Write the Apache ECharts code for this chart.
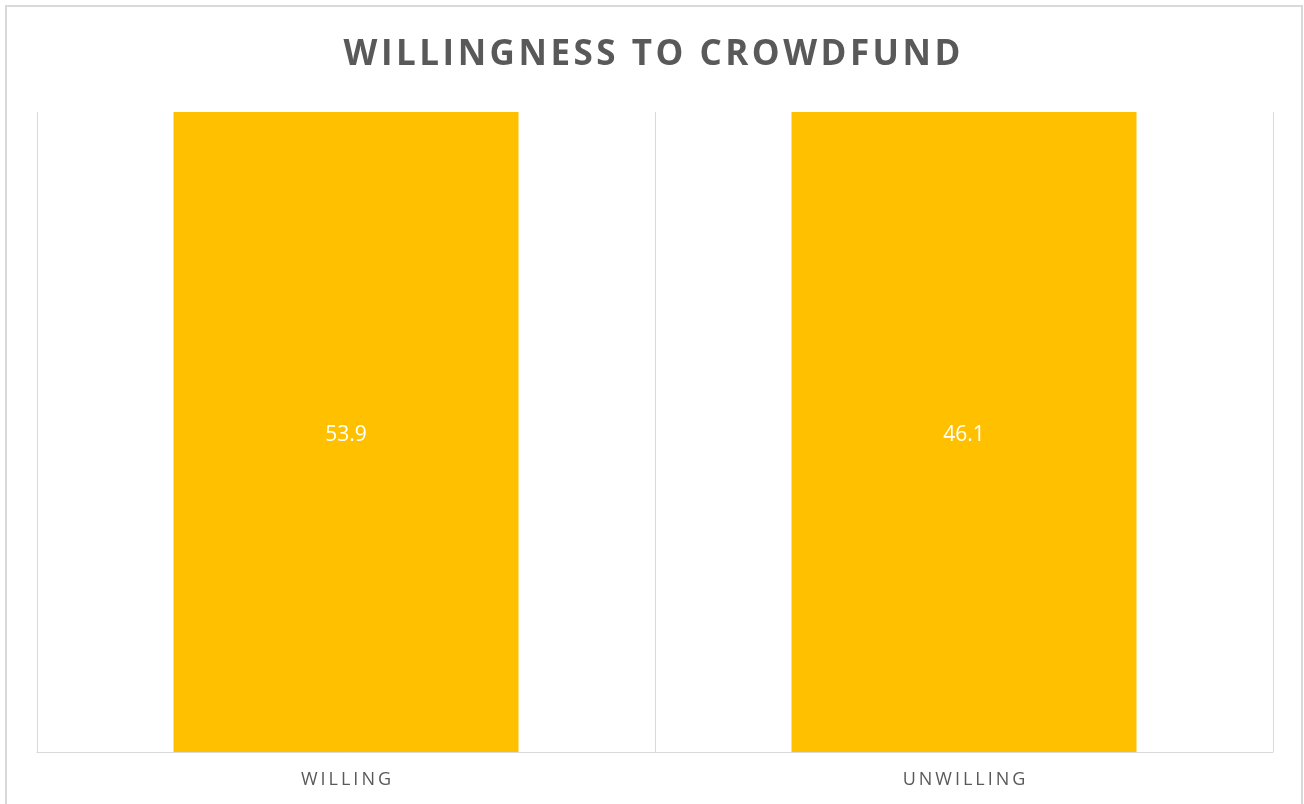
<!DOCTYPE html>
<html>
<head>
<meta charset="utf-8">
<script src="https://cdn.jsdelivr.net/npm/echarts@6/dist/echarts.min.js"></script>
<style>
  html, body { margin: 0; padding: 0; background: #ffffff; }
  #chart { width: 1304px; height: 804px; }
</style>
</head>
<body>
<div id="chart"></div>
<script>
// Survey answers: share of respondents (%)
const categories = ['WILLING', 'UNWILLING'];
const shares = [53.9, 46.1];
const titleText = 'WILLINGNESS TO CROWDFUND';

// Spread letters apart for the tracked-out caps look
function track(str, gap) {
  return str.split('').join(gap);
}

const chart = echarts.init(document.getElementById('chart'), null, { renderer: 'canvas' });

chart.setOption({
  backgroundColor: '#ffffff',
  animation: false,
  graphic: [{
    type: 'rect',
    shape: { x: 6, y: 6, width: 1296, height: 820 },
    style: { fill: 'none', stroke: '#d9d9d9', lineWidth: 2 },
    silent: true,
    z: -10
  }],
  title: {
    text: track(titleText, '\u200A'),
    left: 'center',
    top: 33,
    textStyle: {
      fontFamily: 'Open Sans',
      fontWeight: 'bold',
      fontSize: 35,
      color: '#595959'
    }
  },
  grid: { left: 37, right: 31, top: 112, bottom: 52, containLabel: false },
  xAxis: {
    type: 'category',
    data: categories,
    boundaryGap: true,
    axisLine: { show: true, lineStyle: { color: '#d9d9d9', width: 1 } },
    axisTick: { show: false },
    splitLine: { show: true, lineStyle: { color: '#d9d9d9', width: 1 } },
    axisLabel: {
      margin: 19,
      fontFamily: 'Open Sans',
      fontSize: 18,
      color: '#595959',
      formatter: (v) => track(v, '\u2009')
    }
  },
  yAxis: {
    type: 'value',
    min: 0,
    max: 40,
    show: false,
    splitLine: { show: false }
  },
  series: [{
    type: 'bar',
    data: shares,
    barWidth: 345,
    clip: true,
    itemStyle: { color: '#FFC000' },
    label: {
      show: true,
      position: 'inside',
      offset: [0, 3],
      fontFamily: 'Open Sans',
      fontSize: 21,
      color: '#ffffff',
      formatter: (p) => p.value.toFixed(1)
    }
  }]
});
</script>
</body>
</html>
